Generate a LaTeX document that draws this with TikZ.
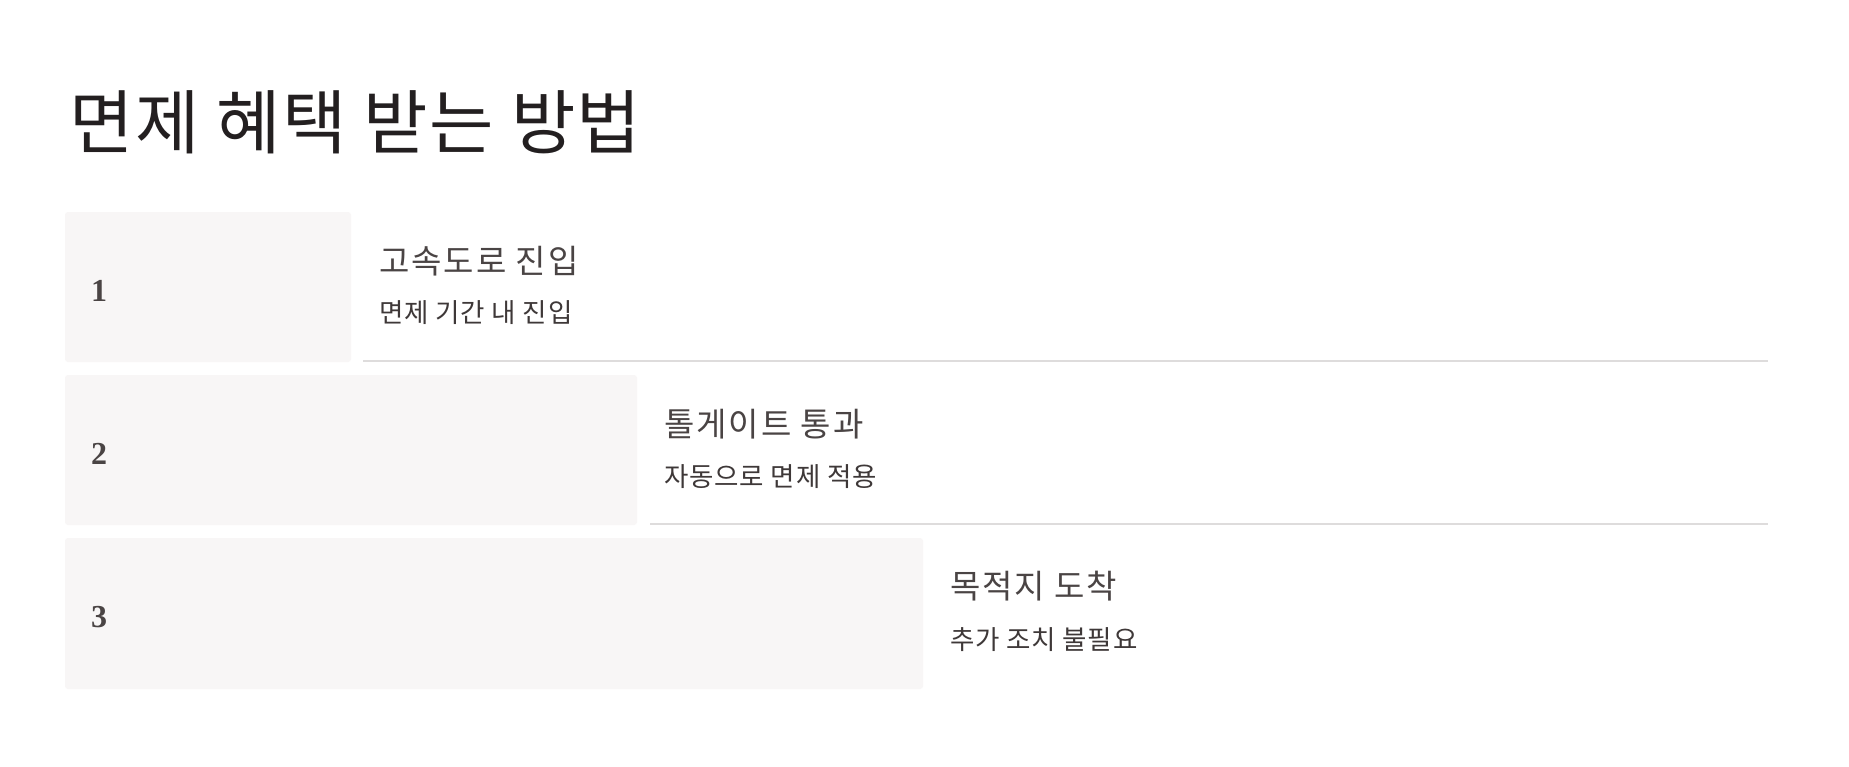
\documentclass[tikz,border=0pt]{standalone}
\usepackage{fontspec}
\newfontfamily\krh[LetterSpace=6]{Noto Sans CJK KR}
\newfontfamily\krs[LetterSpace=3]{Noto Sans CJK KR}
\newfontfamily\krt[LetterSpace=2]{Noto Sans CJK KR}
\newfontfamily\numf{Liberation Serif}
\definecolor{boxfill}{HTML}{F8F6F6}
\definecolor{rule}{HTML}{DEDCDC}
\definecolor{titlec}{HTML}{231F20}
\definecolor{textc}{HTML}{4A4444}
\definecolor{subc}{HTML}{3E3838}
\tikzset{
  stepbox/.style={fill=boxfill, draw=none, rounded corners=3pt},
  numlbl/.style={anchor=west, inner sep=0pt, font=\numf\bfseries\fontsize{32}{32}\selectfont, text=textc},
  headlbl/.style={anchor=west, inner sep=0pt, font=\krh\fontsize{33}{33}\selectfont, text=textc},
  sublbl/.style={anchor=west, inner sep=0pt, font=\krs\fontsize{26.5}{26.5}\selectfont, text=subc},
  sepline/.style={draw=rule, line width=2pt},
}
\begin{document}
\begin{tikzpicture}[x=1pt,y=-1pt]
\useasboundingbox[fill=white] (0,0) rectangle (1849,766);
\node[anchor=west, inner sep=0pt, font=\krt\fontsize{70}{70}\selectfont, text=titlec] (title) at (69,122) {면제 혜택 받는 방법};
% row 1
\path[stepbox] (65,212) rectangle (351,362);
\node[numlbl] (n1) at (91,291) {1};
\node[headlbl] (h1) at (379,261) {고속도로 진입};
\node[sublbl] (s1) at (379,313) {면제 기간 내 진입};
\coordinate (l1a) at (363,361);
\coordinate (l1b) at (1768,361);
\draw[sepline] (l1a) -- (l1b);
% row 2
\path[stepbox] (65,375) rectangle (637,525);
\node[numlbl] (n2) at (91,454) {2};
\node[headlbl] (h2) at (664,424) {톨게이트 통과};
\node[sublbl] (s2) at (664,477) {자동으로 면제 적용};
\coordinate (l2a) at (650,524);
\coordinate (l2b) at (1768,524);
\draw[sepline] (l2a) -- (l2b);
% row 3
\path[stepbox] (65,538) rectangle (923,689);
\node[numlbl] (n3) at (91,617) {3};
\node[headlbl] (h3) at (950,586) {목적지 도착};
\node[sublbl] (s3) at (950,640) {추가 조치 불필요};
\end{tikzpicture}
\end{document}
